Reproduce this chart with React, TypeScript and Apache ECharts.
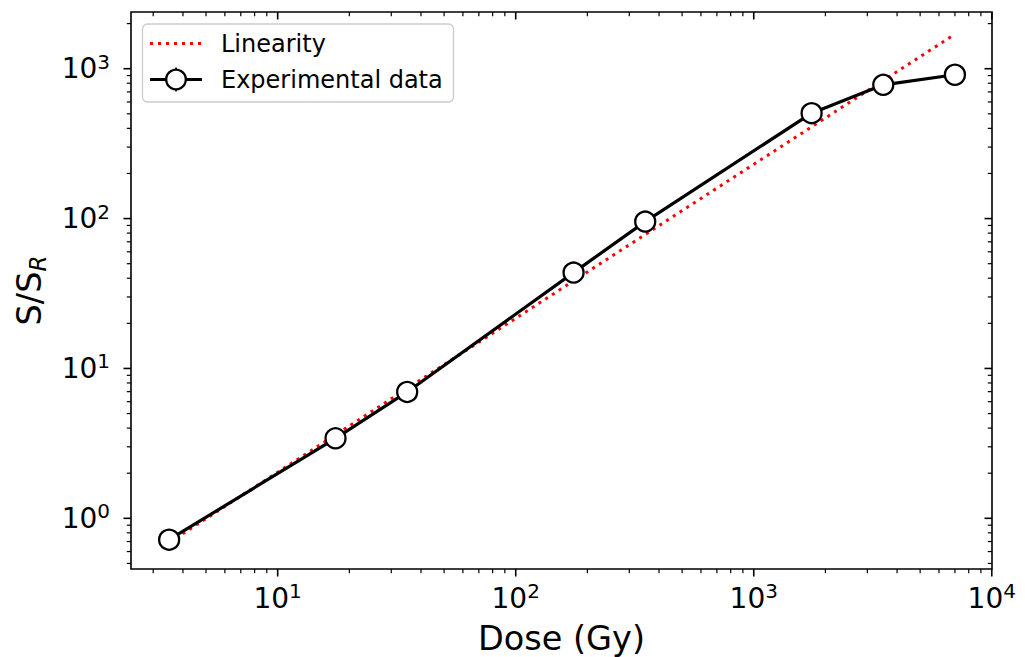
import { useEffect, useRef } from "react";
import * as echarts from "echarts";

// Measured response versus absorbed dose
const DOSE_GY = [3.5, 17.5, 35, 175, 350, 1750, 3500, 7000];
const SIGNAL_RATIO = [0.72, 3.42, 6.97, 43.6, 95.5, 505, 781, 911];

// Reference line for a linear response (two end points on the log-log plot)
const LINEAR_DOSE = [3.5, 7000];
const LINEAR_RATIO = [0.69, 1700];

// Axis ranges
const X_RANGE = [2.42, 10020];
const Y_RANGE = [0.459, 2390];

const LEGEND_LABELS = ["Linearity", "Experimental data"];
const X_NAME = "Dose (Gy)";
const Y_NAME = "S/S{sub|R}";

const FONT = "DejaVu Sans";

const GRID = { left: 131, right: 33, top: 12, bottom: 88 };

// Major (1·10^n) and minor (2..9·10^n) tick positions inside a range
function decadeTicks(lo: number, hi: number) {
  const out: { v: number; major: boolean }[] = [];
  const e0 = Math.floor(Math.log10(lo));
  const e1 = Math.ceil(Math.log10(hi));
  for (let e = e0; e <= e1; e++) {
    for (let m = 1; m <= 9; m++) {
      const v = m * Math.pow(10, e);
      if (v >= lo && v <= hi) out.push({ v, major: m === 1 });
    }
  }
  return out;
}

function powLabel(v: number) {
  const l = Math.log10(v);
  if (Math.abs(l - Math.round(l)) > 1e-6) return "";
  return `{b|10}{s|${Math.round(l)}}`;
}

const tickRich = {
  b: { fontSize: 28, fontFamily: FONT, color: "#000", lineHeight: 34 },
  s: { fontSize: 20, fontFamily: FONT, color: "#000", lineHeight: 22, verticalAlign: "top" },
};

export default function App() {
  const ref = useRef<HTMLDivElement>(null);

  useEffect(() => {
    if (!ref.current) return;
    const chart = echarts.init(ref.current, undefined, { renderer: "svg" });

    const tickData: number[][] = [];
    decadeTicks(X_RANGE[0], X_RANGE[1]).forEach((t) => tickData.push([t.v, Y_RANGE[0], 0, t.major ? 1 : 0]));
    decadeTicks(Y_RANGE[0], Y_RANGE[1]).forEach((t) => tickData.push([X_RANGE[0], t.v, 1, t.major ? 1 : 0]));

    const legendX = 142.5;
    const legendY = 24;
    const row1 = 43.5;
    const row2 = 79.5;

    chart.setOption({
      animation: false,
      backgroundColor: "#fff",
      grid: {
        ...GRID,
        containLabel: false,
        outerBoundsMode: "none",
        show: true,
        borderColor: "#000",
        borderWidth: 1.6,
        backgroundColor: "transparent",
      },
      xAxis: {
        type: "log",
        logBase: 10,
        min: X_RANGE[0],
        max: X_RANGE[1],
        name: X_NAME,
        nameLocation: "middle",
        nameGap: 52,
        nameTextStyle: { fontSize: 33.5, fontFamily: FONT, color: "#000" },
        axisLine: { show: false },
        axisTick: { show: false },
        splitLine: { show: false },
        minorTick: { show: false },
        axisLabel: {
          formatter: (v: number) => powLabel(v),
          margin: 12,
          rich: tickRich,
          showMinLabel: false,
          showMaxLabel: true,
        },
      },
      yAxis: {
        type: "log",
        logBase: 10,
        min: Y_RANGE[0],
        max: Y_RANGE[1],
        name: Y_NAME,
        nameLocation: "middle",
        nameRotate: 90,
        nameGap: 82,
        nameTextStyle: {
          fontSize: 33.5,
          fontFamily: FONT,
          color: "#000",
          lineHeight: 40,
          rich: {
            sub: {
              fontSize: 23,
              fontFamily: FONT,
              fontStyle: "italic",
              color: "#000",
              lineHeight: 26,
              verticalAlign: "bottom",
            },
          },
        },
        axisLine: { show: false },
        axisTick: { show: false },
        splitLine: { show: false },
        axisLabel: {
          formatter: (v: number) => powLabel(v),
          margin: 21,
          rich: tickRich,
          showMinLabel: false,
          showMaxLabel: false,
        },
      },
      series: [
        {
          name: LEGEND_LABELS[0],
          type: "line",
          data: LINEAR_DOSE.map((d, i) => [d, LINEAR_RATIO[i]]),
          symbol: "none",
          lineStyle: { color: "#ff0000", width: 3, type: [3, 5], cap: "butt" },
          z: 2,
        },
        {
          name: LEGEND_LABELS[1],
          type: "line",
          data: DOSE_GY.map((d, i) => [d, SIGNAL_RATIO[i]]),
          symbol: "circle",
          symbolSize: 20,
          itemStyle: { color: "#fff", borderColor: "#000", borderWidth: 2.3 },
          lineStyle: { color: "#000", width: 3.2 },
          z: 3,
        },
        {
          // axis ticks on all four sides: outward on bottom/left, inward on top/right
          type: "custom",
          data: tickData,
          silent: true,
          clip: false,
          z: 5,
          renderItem: (params: any, api: any) => {
            const cs = params.coordSys;
            const kind = api.value(2);
            const major = api.value(3) === 1;
            const len = major ? 7.5 : 4.2;
            const style = { stroke: "#000", lineWidth: major ? 1.6 : 1.2 };
            const p = api.coord([api.value(0), api.value(1)]);
            if (kind === 0) {
              const x = p[0];
              const b = cs.y + cs.height;
              const t = cs.y;
              return {
                type: "group",
                children: [
                  { type: "line", shape: { x1: x, y1: b, x2: x, y2: b + len }, style },
                  { type: "line", shape: { x1: x, y1: t, x2: x, y2: t + len }, style },
                ],
              };
            }
            const y = p[1];
            const l = cs.x;
            const r = cs.x + cs.width;
            return {
              type: "group",
              children: [
                { type: "line", shape: { x1: l - len, y1: y, x2: l, y2: y }, style },
                { type: "line", shape: { x1: r - len, y1: y, x2: r, y2: y }, style },
              ],
            };
          },
        },
      ],
      graphic: [
        {
          type: "rect",
          z: 20,
          shape: { x: legendX, y: legendY, width: 311, height: 78, r: 5 },
          style: { fill: "rgba(255,255,255,0.8)", stroke: "#cccccc", lineWidth: 1.3 },
        },
        {
          type: "line",
          z: 21,
          shape: { x1: 150, y1: row1, x2: 202, y2: row1 },
          style: { stroke: "#ff0000", lineWidth: 3, lineDash: [3, 5] },
        },
        {
          type: "text",
          z: 21,
          x: 221,
          y: row1,
          style: {
            text: LEGEND_LABELS[0],
            fontSize: 24,
            fontFamily: FONT,
            fill: "#000",
            verticalAlign: "middle",
          },
        },
        {
          type: "line",
          z: 21,
          shape: { x1: 150, y1: row2, x2: 202, y2: row2 },
          style: { stroke: "#000", lineWidth: 3.2 },
        },
        {
          type: "line",
          z: 21,
          shape: { x1: 176, y1: row2 - 12, x2: 176, y2: row2 + 12 },
          style: { stroke: "#000", lineWidth: 1.6 },
        },
        {
          type: "circle",
          z: 22,
          shape: { cx: 176, cy: row2, r: 9.8 },
          style: { fill: "#fff", stroke: "#000", lineWidth: 2.3 },
        },
        {
          type: "text",
          z: 21,
          x: 221,
          y: row2,
          style: {
            text: LEGEND_LABELS[1],
            fontSize: 24,
            fontFamily: FONT,
            fill: "#000",
            verticalAlign: "middle",
          },
        },
      ],
    });

    return () => chart.dispose();
  }, []);

  return (
    <div
      ref={ref}
      style={{ position: "fixed", left: 0, top: 0, width: 1025, height: 657, background: "#fff" }}
    />
  );
}
